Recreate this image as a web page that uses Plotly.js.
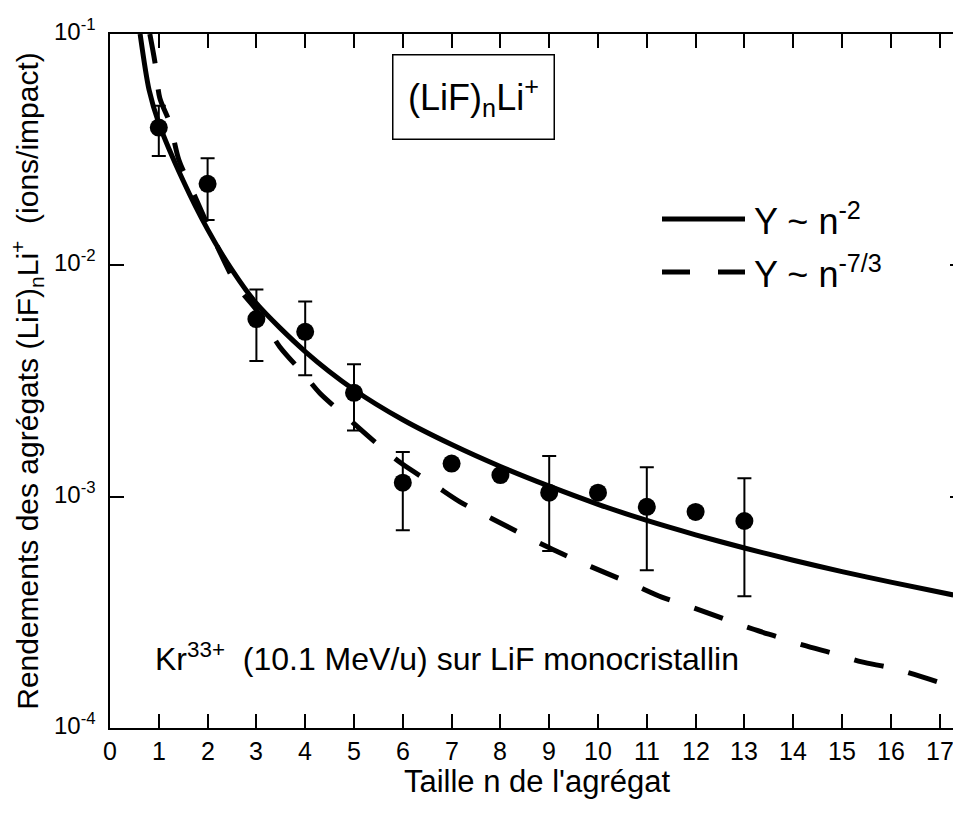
<!DOCTYPE html>
<html>
<head>
<meta charset="utf-8">
<script src="https://cdn.plot.ly/plotly-3.0.1.min.js"></script>
<style>
html, body { margin: 0; padding: 0; background: #fff; overflow: hidden; width: 953px; height: 821px; }
#chart { width: 980px; height: 821px; }
</style>
</head>
<body>
<div id="chart"></div>
<script>
// ---- Data ----
// Measured cluster yields (LiF)nLi+ (ions/impact)
const clusterSize = [1, 2, 3, 4, 5, 6, 7, 8, 9, 10, 11, 12, 13];
const yieldValues = [0.0394, 0.0225, 0.00586, 0.00516, 0.00281, 0.00115, 0.00139, 0.00124, 0.00104, 0.00104, 0.000904, 0.000859, 0.000785];
const errorUpper  = [0.049, 0.029, 0.00787, 0.00697, 0.00374, 0.00156, NaN, NaN, 0.00150, NaN, 0.00134, NaN, 0.0012];
const errorLower  = [0.0297, 0.0157, 0.00386, 0.00335, 0.00193, 0.000716, NaN, NaN, 0.000583, NaN, 0.000481, NaN, 0.000371];

// Fit curve Y ~ n^-2
const fit2N = [0.617, 0.8, 1, 1.5, 2, 2.5, 3, 4, 5, 6, 7, 8, 9, 10, 11, 12, 13, 14, 15, 16, 17.28];
const fit2Y = [0.1, 0.0574, 0.0412, 0.0232, 0.0143, 0.00955, 0.00684, 0.00424, 0.0029, 0.00215, 0.00168, 0.00135, 0.00111, 0.000927, 0.000789, 0.000684, 0.0006, 0.000531, 0.000474, 0.000427, 0.000376];

// Fit curve Y ~ n^-7/3
const fit73N = [0.816, 0.918, 1.021, 1.226, 1.41, 1.65, 2.593, 3.003, 3.481, 3.959, 4.301, 4.848, 5.463, 5.976, 6.659, 7.171, 7.821, 8.981, 9.596, 10.109, 10.759, 11.306, 11.921, 13.049, 13.697, 14.209, 14.859, 15.406, 16.054, 17.181];
const fit73Y = [0.1, 0.0761, 0.0528, 0.0412, 0.0286, 0.0219, 0.00822, 0.0064, 0.00444, 0.00341, 0.0028, 0.00221, 0.0017, 0.00139, 0.00112, 0.00095, 0.000805, 0.000604, 0.000526, 0.000473, 0.000414, 0.000368, 0.000333, 0.000273, 0.000247, 0.000228, 0.000209, 0.000193, 0.000181, 0.000153];

// Tick labels
const xTickVals = [0,1,2,3,4,5,6,7,8,9,10,11,12,13,14,15,16,17];
const xTickText = ['0','1','2','3','4','5','6','7','8','9','10','11','12','13','14','15','16','17'];
const yTickVals = [1e-4, 1e-3, 1e-2, 1e-1];
const yTickText = ['10<sup>-4</sup>', '10<sup>-3</sup>', '10<sup>-2</sup>', '10<sup>-1</sup>'];
const yMinorVals = [];
[1e-4, 1e-3, 1e-2].forEach(d => { for (let k = 2; k <= 9; k++) yMinorVals.push(k * d); });

// Texts
const legendLabels = ['Y ~ n<sup>-2</sup>', 'Y ~ n<sup>-7/3</sup>'];
const boxLabel = '(LiF)<sub>n</sub>Li<sup>+</sup>';
const conditionLabel = 'Kr<sup>33+</sup>  (10.1 MeV/u) sur LiF monocristallin';
const xTitle = "Taille n de l'agrégat";
const yTitle = 'Rendements des agrégats (LiF)<sub>n</sub>Li<sup>+</sup>  (ions/impact)';

// ---- Derived error arrays ----
const errPlus = yieldValues.map((v, i) => errorUpper[i] - v);
const errMinus = yieldValues.map((v, i) => v - errorLower[i]);

const FONT = 'Liberation Sans, Arial, Helvetica, sans-serif';
const XTICK_SIZE = 25;
const YTICK_SIZE = 24;

const traces = [
  {
    x: fit2N, y: fit2Y, type: 'scatter', mode: 'lines', name: 'Y ~ n-2',
    line: { color: '#000', width: 5, shape: 'spline', smoothing: 0.8 },
    showlegend: false, hoverinfo: 'skip'
  },
  {
    x: fit73N, y: fit73Y, type: 'scatter', mode: 'lines', name: 'Y ~ n-7/3',
    line: { color: '#000', width: 5, dash: '30px,26px', shape: 'spline', smoothing: 0.8 },
    showlegend: false, hoverinfo: 'skip'
  },
  {
    x: clusterSize, y: yieldValues, type: 'scatter', mode: 'markers', name: '(LiF)nLi+',
    marker: { color: '#000', size: 18, symbol: 'circle' },
    error_y: { type: 'data', symmetric: false, array: errPlus, arrayminus: errMinus,
               color: '#000', thickness: 2, width: 7 },
    showlegend: false
  }
];

const plotL = 110, plotT = 34, plotW = 854, plotH = 694;
const px = v => (v - plotL) / plotW;
const py = v => (plotT + plotH - v) / plotH;

// Tick labels drawn as text annotations placed on the axes' own scales
const xTickLabels = xTickVals.map((v, i) => ({
  xref: 'x', yref: 'paper', x: v, y: py(751), xanchor: 'center', yanchor: 'middle',
  text: xTickText[i], showarrow: false, font: { size: XTICK_SIZE }
}));
const yTickLabels = yTickVals.map((v, i) => ({
  xref: 'paper', yref: 'y', x: px(98), y: Math.log10(v), xanchor: 'right', yanchor: 'middle',
  yshift: 4, text: yTickText[i], showarrow: false, font: { size: YTICK_SIZE }
}));

const layout = {
  width: 980, height: 821,
  margin: { l: plotL, r: 980 - plotL - plotW, t: plotT, b: 821 - plotT - plotH, pad: 0 },
  paper_bgcolor: '#fff', plot_bgcolor: '#fff',
  font: { family: FONT, color: '#000', size: 22 },
  showlegend: false,
  xaxis: {
    range: [0, 17.5], tickmode: 'array', tickvals: xTickVals,
    ticks: 'inside', ticklen: 14, tickwidth: 2, tickcolor: '#000',
    showline: true, linewidth: 2, linecolor: '#000', mirror: 'ticks',
    showgrid: false, zeroline: false, showticklabels: false,
    title: { text: xTitle, font: { size: 31 }, standoff: 41 }
  },
  yaxis: {
    type: 'log', range: [-4, -1], tickmode: 'array', tickvals: yTickVals,
    ticks: 'inside', ticklen: 14, tickwidth: 2, tickcolor: '#000',
    showline: true, linewidth: 2, linecolor: '#000', mirror: 'ticks',
    showgrid: false, zeroline: false, showticklabels: false,
    title: { text: yTitle, font: { size: 30 }, standoff: 61 }
  },
  yaxis2: {
    type: 'log', range: [-4, -1], overlaying: 'y', side: 'left', anchor: 'x',
    tickmode: 'array', tickvals: yMinorVals, showticklabels: false,
    ticks: 'inside', ticklen: 8, tickwidth: 2, tickcolor: '#000',
    showline: false, mirror: 'ticks', showgrid: false, zeroline: false
  },
  shapes: [
    { type: 'line', xref: 'paper', yref: 'paper', x0: px(662), x1: px(745), y0: py(219), y1: py(219),
      line: { color: '#000', width: 5 } },
    { type: 'line', xref: 'paper', yref: 'paper', x0: px(662), x1: px(745), y0: py(272), y1: py(272),
      line: { color: '#000', width: 5, dash: '28px,28px' } }
  ],
  annotations: [
    { xref: 'paper', yref: 'paper', x: px(752), y: py(219), xanchor: 'left', yanchor: 'middle',
      text: legendLabels[0], showarrow: false, font: { size: 36 } },
    { xref: 'paper', yref: 'paper', x: px(752), y: py(272), xanchor: 'left', yanchor: 'middle',
      text: legendLabels[1], showarrow: false, font: { size: 36 } },
    { xref: 'paper', yref: 'paper', x: px(473), y: py(97), xanchor: 'center', yanchor: 'middle',
      text: boxLabel, showarrow: false, font: { size: 36 },
      width: 160, height: 83, borderpad: 0, borderwidth: 1.5, bordercolor: '#000', bgcolor: '#fff' },
    { xref: 'paper', yref: 'paper', x: px(153), y: py(657), xanchor: 'left', yanchor: 'middle',
      text: conditionLabel, showarrow: false, font: { size: 32 } }
  ].concat(xTickLabels, yTickLabels)
};

Plotly.newPlot('chart', traces, layout, { displayModeBar: false });
</script>
</body>
</html>
